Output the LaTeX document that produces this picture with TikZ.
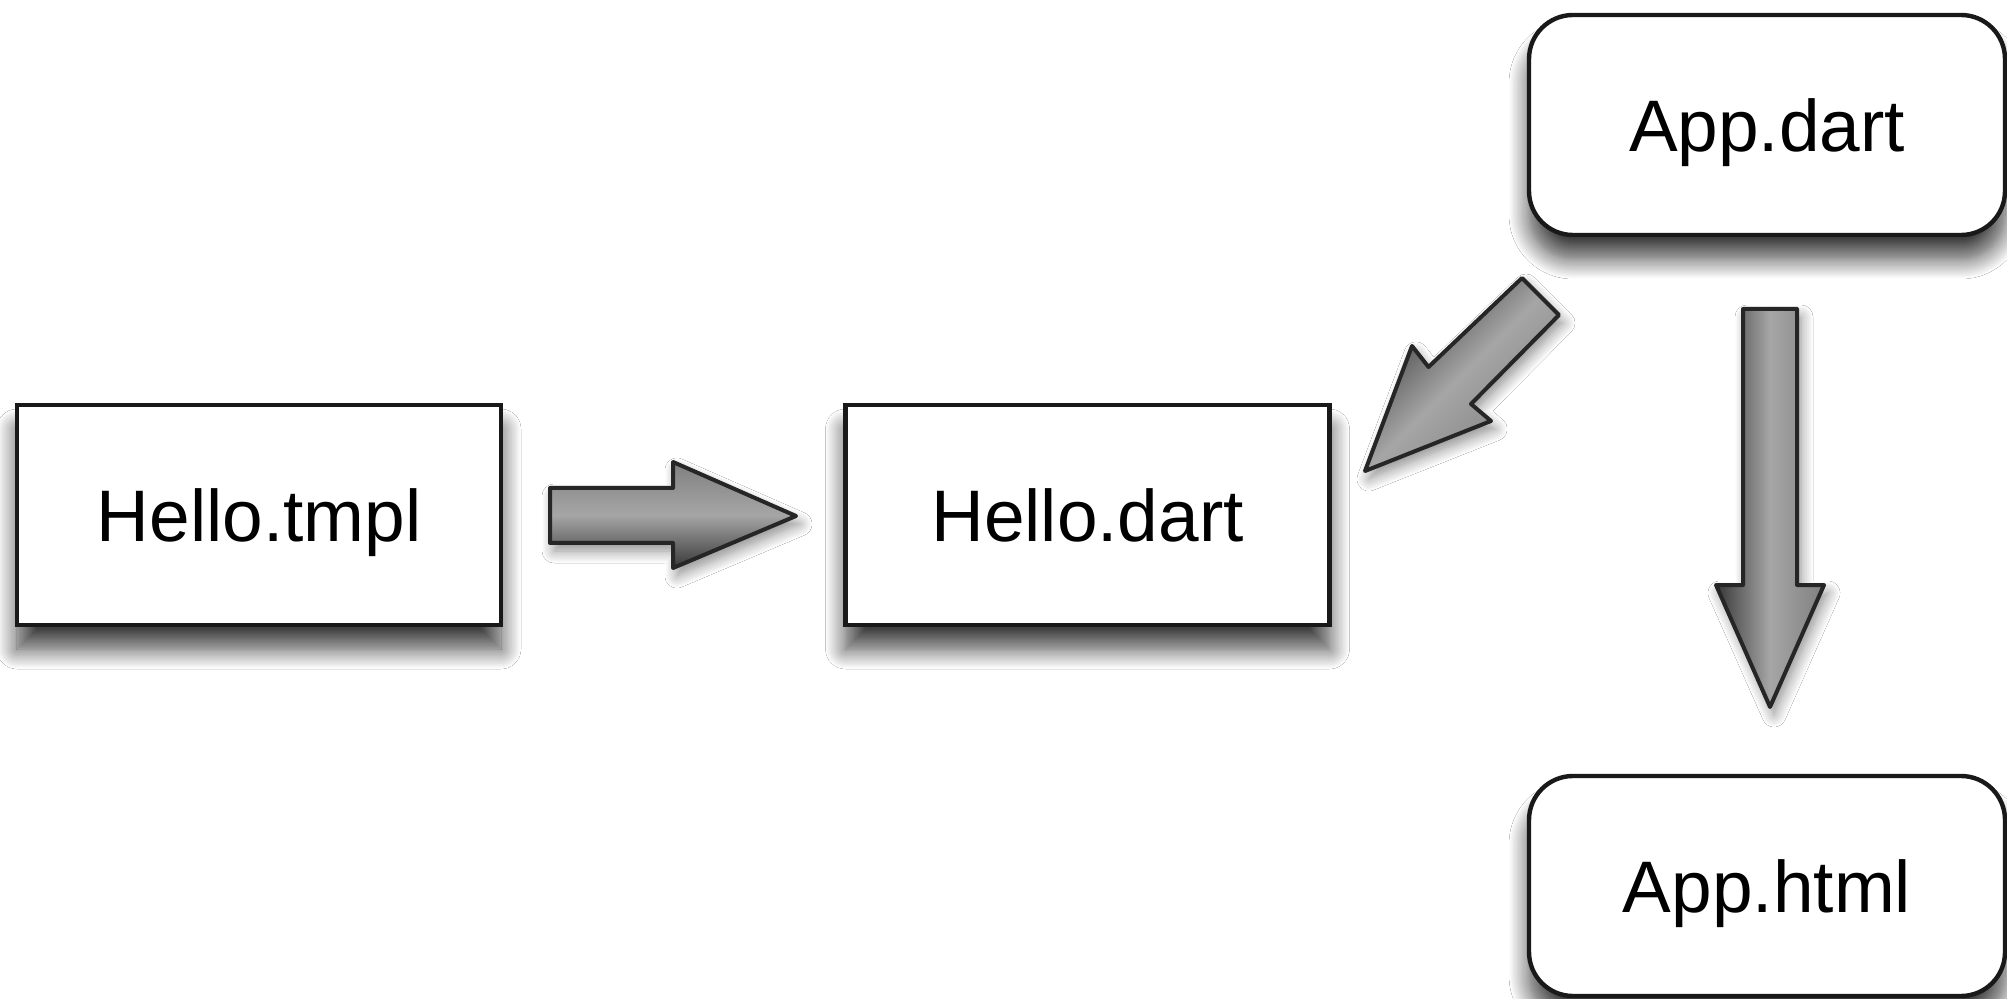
\documentclass[tikz,border=0pt]{standalone}
\usepackage{fontspec}
\setmainfont{Liberation Sans}
\usetikzlibrary{shadows.blur}
\begin{document}
\begin{tikzpicture}[x=0.5pt,y=0.5pt,
  box/.style={draw=black!90, line width=2.2pt, fill=white, minimum width=242pt, minimum height=110pt,
    font=\fontsize{36.5}{40}\selectfont, inner sep=0pt, text depth=0pt,
    blur shadow={shadow xshift=0pt, shadow yshift=-12pt, shadow blur radius=10pt, shadow opacity=75, shadow blur steps=16}},
  rbox/.style={box, rounded corners=22pt},
  blockarrow/.style={draw=black!85, line width=2pt, line join=round,
    blur shadow={shadow xshift=2pt, shadow yshift=-4pt, shadow blur radius=6pt, shadow opacity=45, shadow blur steps=12}}
]
\useasboundingbox (0,0) rectangle (2007,-999);
\fill[white] (0,0) rectangle (2007,-999);

\node[box] (tmpl) at (259,-515) {Hello.tmpl};
\node[box] (hdart) at (1087.5,-515) {Hello.dart};
\node[rbox, minimum width=238pt] (adart) at (1767,-125) {App.dart};
\node[rbox, minimum width=238pt] (ahtml) at (1767,-886) {App.html};

% horizontal arrow
\path[blockarrow, top color=black!50, bottom color=black!78, middle color=black!35]
  (550,-488) -- (673,-488) -- (673,-462) -- (796,-516) -- (673,-568) -- (673,-543) -- (550,-543) -- cycle;

% vertical arrow
\path[blockarrow, top color=black!78, bottom color=black!50, middle color=black!35, shading angle=90]
  (1743,-309) -- (1797,-309) -- (1797,-585) -- (1824,-585) -- (1770,-707) -- (1716,-585) -- (1743,-585) -- cycle;

% diagonal arrow
\path[blockarrow, top color=black!80, bottom color=black!50, middle color=black!35, shading angle=45]
  (1522,-278) -- (1559,-315) -- (1471,-404) -- (1491,-421) -- (1365,-471) -- (1412,-346) -- (1428.5,-367) -- cycle;
\end{tikzpicture}
\end{document}
